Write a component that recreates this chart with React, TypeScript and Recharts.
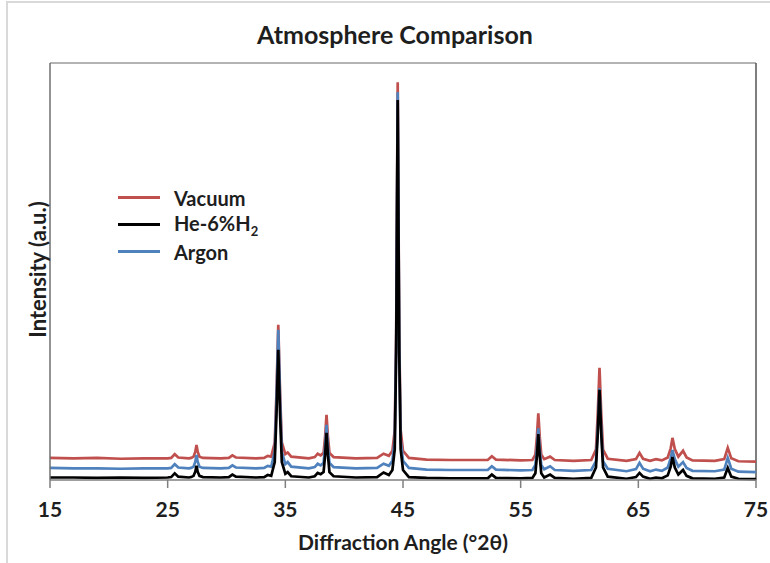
import { Label, Line, LineChart, ReferenceLine, XAxis, YAxis } from "recharts";

// diffraction angle (°2θ) of each sampled point
const angles = [
  15, 17, 19, 21, 23, 25, 25.3, 25.6, 25.9, 26.8,
  27.0, 27.2, 27.35, 27.45, 27.55, 27.7, 28.0, 29.5, 30.2, 30.5,
  30.8, 32.5, 33.2, 33.5, 33.8, 34.1, 34.25, 34.4, 34.55, 34.7,
  35.0, 35.2, 35.5, 37.0, 37.5, 37.75, 38.0, 38.25, 38.38, 38.5,
  38.62, 38.75, 39.1, 41.0, 42.8, 43.35, 43.8, 44.1, 44.3, 44.42,
  44.55, 44.68, 44.8, 45.0, 45.5, 47, 49, 51, 52.2, 52.55,
  52.9, 55.0, 56.0, 56.25, 56.38, 56.5, 56.62, 56.75, 57.0, 57.5,
  57.9, 59.5, 61.0, 61.4, 61.55, 61.7, 61.85, 62.0, 62.4, 64.0,
  64.8, 65.1, 65.4, 66.0, 66.5, 67.0, 67.5, 67.75, 67.9, 68.1,
  68.4, 68.8, 69.1, 69.6, 71.5, 72.3, 72.6, 72.9, 73.5, 75,
];

const vacuum = [
  5.3, 5.2, 5.3, 5.1, 5.2, 5.2, 5.3, 6.2, 5.4, 5.2,
  5.3, 5.6, 6.8, 8.4, 6.8, 5.6, 5.3, 5.2, 5.3, 5.9,
  5.4, 5.2, 5.3, 5.8, 5.6, 9.0, 21.2, 37.2, 21.2, 9.0,
  6.2, 6.6, 5.6, 5.2, 5.5, 6.3, 5.9, 6.5, 10.4, 15.6,
  10.4, 6.5, 5.5, 5.2, 5.3, 6.3, 5.8, 7.0, 12.0, 35.0,
  95.4, 35.0, 12.0, 7.0, 5.3, 4.9, 4.8, 4.8, 4.8, 5.7,
  4.9, 4.7, 4.8, 6.1, 10.4, 16.0, 10.4, 6.1, 5.0, 5.6,
  4.8, 4.6, 4.8, 7.3, 15.8, 26.9, 15.8, 7.3, 5.1, 4.6,
  5.0, 6.5, 5.1, 4.6, 5.0, 4.7, 5.4, 7.6, 10.1, 7.4,
  5.6, 7.0, 5.4, 4.7, 4.6, 5.0, 7.7, 5.2, 4.5, 4.4,
];

const heH2 = [
  0.6, 0.6, 0.5, 0.6, 0.5, 0.6, 0.7, 1.6, 0.8, 0.6,
  0.7, 1.0, 2.0, 3.4, 2.0, 1.0, 0.7, 0.6, 0.7, 1.3,
  0.8, 0.6, 0.7, 1.2, 1.0, 4.3, 15.9, 31.2, 15.9, 4.3,
  1.5, 1.9, 0.9, 0.6, 0.9, 1.7, 1.4, 1.9, 5.9, 11.3,
  5.9, 1.9, 0.9, 0.6, 0.7, 1.8, 1.2, 2.4, 7.4, 30.6,
  91.1, 30.6, 7.4, 2.4, 0.7, 0.5, 0.4, 0.4, 0.4, 1.3,
  0.5, 0.4, 0.5, 1.6, 5.7, 11.0, 5.7, 1.6, 0.6, 1.3,
  0.5, 0.3, 0.5, 3.0, 11.0, 21.6, 11.0, 3.0, 0.8, 0.3,
  0.7, 1.7, 0.8, 0.3, 0.6, 0.4, 1.1, 3.2, 5.5, 3.0,
  1.3, 2.4, 1.0, 0.4, 0.3, 0.6, 2.9, 0.8, 0.3, 0.2,
];

const argon = [
  2.9, 2.8, 2.8, 2.7, 2.8, 2.8, 2.9, 3.8, 3.0, 2.8,
  2.9, 3.2, 4.4, 6.0, 4.4, 3.2, 2.9, 2.8, 2.9, 3.5,
  3.0, 2.8, 2.9, 3.4, 3.2, 6.8, 19.4, 36.0, 19.4, 6.8,
  3.8, 4.3, 3.2, 2.8, 3.1, 3.9, 3.5, 4.1, 8.0, 13.2,
  8.0, 4.1, 3.1, 2.8, 2.9, 3.9, 3.4, 4.6, 9.6, 32.6,
  93.0, 32.6, 9.6, 4.6, 2.9, 2.5, 2.4, 2.4, 2.4, 3.3,
  2.5, 2.3, 2.4, 3.6, 7.4, 12.4, 7.4, 3.6, 2.6, 3.3,
  2.4, 2.2, 2.4, 4.5, 12.0, 22.0, 12.0, 4.5, 2.7, 2.1,
  2.6, 4.1, 2.7, 2.1, 2.5, 2.2, 3.0, 5.2, 7.2, 5.0,
  3.2, 4.3, 2.9, 2.2, 2.1, 2.5, 5.3, 2.7, 2.0, 1.9,
];

const xTicks = [15, 25, 35, 45, 55, 65, 75];

const data = angles.map((a, i) => ({
  angle: a,
  vacuum: vacuum[i],
  heH2: heH2[i],
  argon: argon[i],
}));

const FONT = "Lato, 'Open Sans', sans-serif";
const TEXT = "#1e1e1e";

function LegendBox() {
  const items = [
    { key: "vacuum", color: "#c0504d", label: <>Vacuum</> },
    {
      key: "heH2",
      color: "#000000",
      label: (
        <>
          He-6%H<span style={{ fontSize: 13, position: "relative", top: 5 }}>2</span>
        </>
      ),
    },
    { key: "argon", color: "#4f81bd", label: <>Argon</> },
  ];
  return (
    <div
      style={{
        position: "absolute",
        left: 118,
        top: 184,
        fontFamily: FONT,
        fontWeight: 700,
        fontSize: 20,
        color: TEXT,
      }}
    >
      {items.map((it) => (
        <div key={it.key} style={{ display: "flex", alignItems: "center", height: 27 }}>
          <span style={{ display: "inline-block", width: 42, height: 3, background: it.color, marginRight: 14 }} />
          <span style={{ lineHeight: "22px" }}>{it.label}</span>
        </div>
      ))}
    </div>
  );
}

export default function App() {
  return (
    <div
      style={{
        position: "absolute",
        left: 0,
        top: 0,
        width: 770,
        height: 563,
        overflow: "hidden",
        background: "#fff",
        fontFamily: FONT,
      }}
    >
      <div
        style={{
          position: "absolute",
          left: 6,
          top: 1,
          width: 900,
          height: 700,
          borderLeft: "2px solid #d9d9d9",
          borderTop: "2px solid #d9d9d9",
        }}
      />
      <div
        style={{
          position: "absolute",
          left: 0,
          width: 790,
          top: 19,
          textAlign: "center",
          fontSize: 25,
          fontWeight: 700,
          lineHeight: "30px",
          color: TEXT,
        }}
      >
        Atmosphere Comparison
      </div>
      <LineChart
        width={770}
        height={563}
        data={data}
        margin={{ top: 63, right: 14, bottom: 0, left: 0 }}
        style={{ position: "absolute", left: 0, top: 0 }}
      >
        <XAxis
          dataKey="angle"
          type="number"
          domain={[15, 75]}
          ticks={xTicks}
          height={83}
          tickSize={8}
          tickMargin={14}
          stroke="#7f7f7f"
          strokeWidth={1.5}
          tick={{ fill: TEXT, fontSize: 21, fontWeight: 700, fontFamily: FONT }}
        >
          <Label
            value="Diffraction Angle (°2θ)"
            position="insideBottom"
            offset={13}
            style={{ fill: TEXT, fontSize: 21, fontWeight: 700, fontFamily: FONT }}
          />
        </XAxis>
        <YAxis
          type="number"
          domain={[0, 100]}
          width={50}
          tick={false}
          tickLine={false}
          stroke="#6f6f6f"
          strokeWidth={1.5}
        >
          <Label
            content={({ viewBox }: any) => (
              <text
                x={viewBox.x + 37}
                y={viewBox.y + viewBox.height / 2 - 2}
                transform={`rotate(-90, ${viewBox.x + 37}, ${viewBox.y + viewBox.height / 2 - 2})`}
                textAnchor="middle"
                dominantBaseline="central"
                style={{ fill: TEXT, fontSize: 22, fontWeight: 700, fontFamily: FONT }}
              >
                Intensity (a.u.)
              </text>
            )}
          />
        </YAxis>
        <ReferenceLine y={100} stroke="#b3b3b3" strokeWidth={2} />
        <ReferenceLine x={75} stroke="#555555" strokeWidth={1.5} />
        <Line
          dataKey="vacuum"
          stroke="#c0504d"
          strokeWidth={2.7}
          dot={false}
          type="linear"
          isAnimationActive={false}
        />
        <Line
          dataKey="argon"
          stroke="#4f81bd"
          strokeWidth={2.7}
          dot={false}
          type="linear"
          isAnimationActive={false}
        />
        <Line
          dataKey="heH2"
          stroke="#000000"
          strokeWidth={2.7}
          dot={false}
          type="linear"
          isAnimationActive={false}
        />
      </LineChart>
      <LegendBox />
    </div>
  );
}
